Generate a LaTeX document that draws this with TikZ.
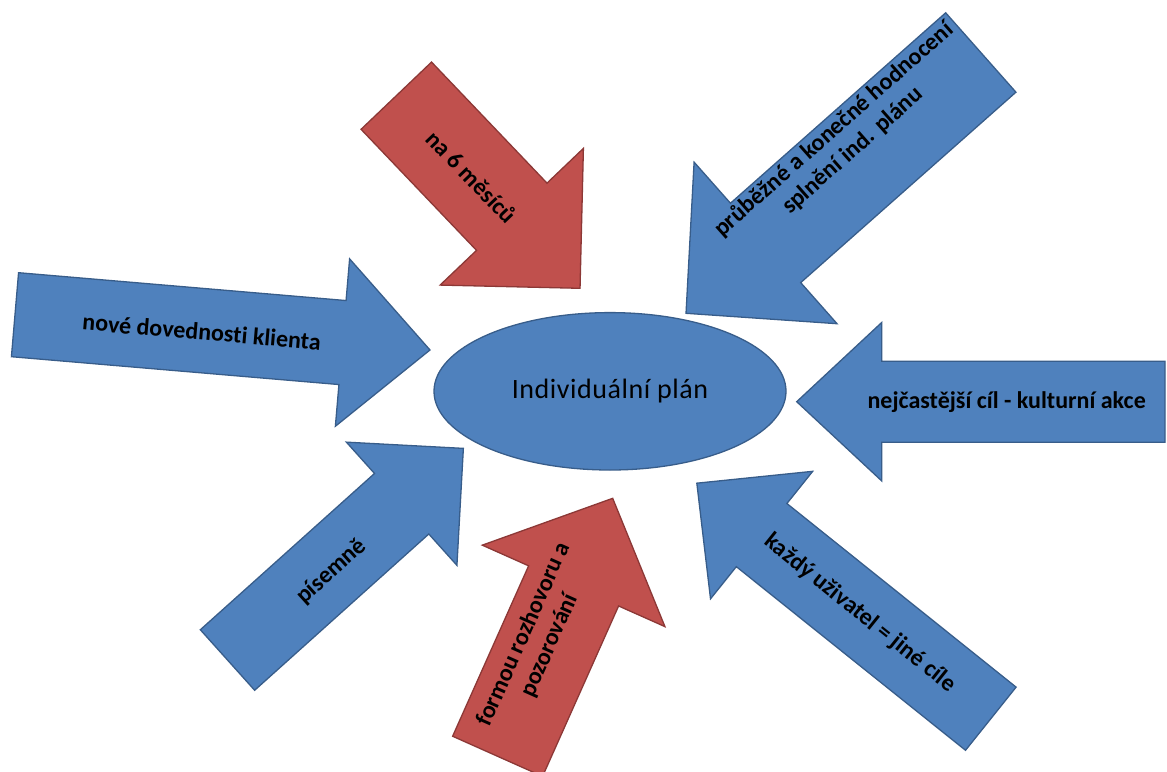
\documentclass[tikz,border=0pt]{standalone}
\usepackage{fontspec}
\setmainfont[Ligatures=NoCommon]{Carlito}
\definecolor{bluefill}{HTML}{4F81BD}
\definecolor{blueline}{HTML}{385D8A}
\definecolor{redfill}{HTML}{C0504D}
\definecolor{redline}{HTML}{8C3836}
% #1 style, #2 x, #3 y (tail centre), #4 angle, #5 length, #6 shaft width, #7 head width, #8 head length
\newcommand\fatarrow[8]{%
  \begin{scope}[shift={(#2,#3)}, rotate=#4]
    \draw[#1] (0,{-#6/2}) -- ({#5-#8},{-#6/2}) -- ({#5-#8},{-#7/2}) -- (#5,0)
      -- ({#5-#8},{#7/2}) -- ({#5-#8},{#6/2}) -- (0,{#6/2}) -- cycle;
  \end{scope}}
\tikzset{
  bluearrow/.style={fill=bluefill, draw=blueline, line width=1.3pt, line join=miter},
  redarrow/.style={fill=redfill, draw=redline, line width=1.3pt, line join=miter},
  lbl/.style={font=\fontsize{24}{28}\selectfont\bfseries, text=black, align=center, inner sep=0pt},
  centretext/.style={font=\fontsize{28}{32}\selectfont\addfontfeature{LetterSpace=2}, text=black, inner sep=0pt},
}
\begin{document}
\begin{tikzpicture}[x=1pt, y=-1pt]
\useasboundingbox (0,0) rectangle (1167,771);
\clip (0,0) rectangle (1167,771);
\fill[white] (0,0) rectangle (1167,771);
% centre ellipse
\draw[bluearrow] (610,391.3) ellipse [x radius=176, y radius=78.7];
\node[centretext] (plan) at (610,391) {Individuální plán};
% arrows
\fatarrow{bluearrow}{15}{314.7}{-4.86}{416.5}{84.3}{168}{87.8}
\fatarrow{redarrow}{396.3}{95.7}{-46.35}{266.2}{97.4}{198}{98.9}
\fatarrow{bluearrow}{980.8}{52.5}{221.5}{393.6}{106}{215.7}{106.2}
\fatarrow{bluearrow}{1165}{401.7}{180}{368.3}{81}{158.4}{85}
\fatarrow{bluearrow}{227.5}{660}{41.9}{316.9}{81.3}{165.5}{82.9}
\fatarrow{redarrow}{497.6}{756.3}{65.96}{282.5}{98.5}{200}{95.9}
\fatarrow{bluearrow}{990.8}{718.7}{141.3}{376.7}{80.9}{163.4}{83}
% labels
\node[lbl, rotate=-4.86] (t1) at (201.7,331.7) {nové dovednosti klienta};
\node[lbl, rotate=-46.35] (t2) at (471.7,176.7) {na 6 měsíců};
\node[lbl, rotate=41.5] (t3) at (843.3,140) {průběžné a konečné hodnocení\\splnění ind. plánu};
\node[lbl] (t4) at (1006.7,401.7) {nejčastější cíl - kulturní akce};
\node[lbl, rotate=41.9] (t5) at (331.7,571.7) {písemně};
\node[lbl, rotate=65.96] (t6) at (536.7,640) {formou rozhovoru a\\pozorování};
\node[lbl, rotate=-38.7] (t7) at (860,613.3) {každý uživatel = jiné cíle};
\end{tikzpicture}
\end{document}
